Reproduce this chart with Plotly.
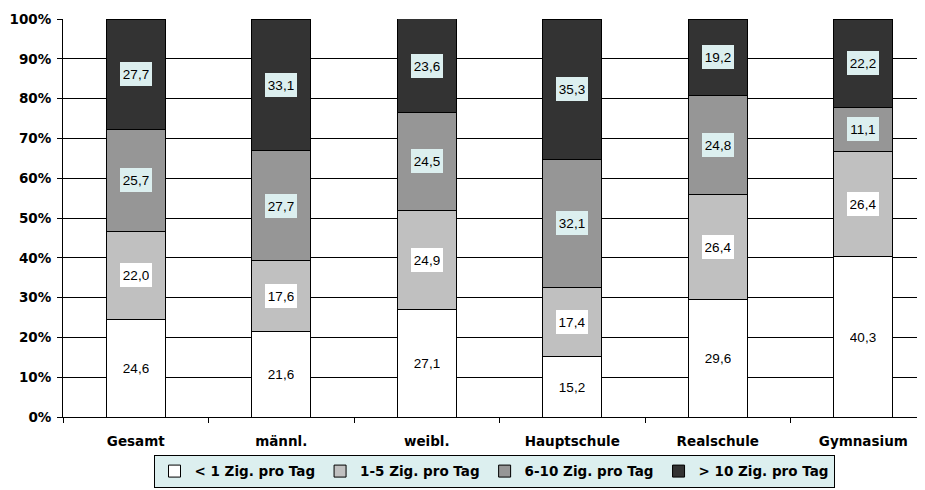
import plotly.graph_objects as go
import numpy as np

categories = ["Gesamt", "männl.", "weibl.", "Hauptschule", "Realschule", "Gymnasium"]
series_names = ["< 1 Zig. pro Tag", "1-5 Zig. pro Tag", "6-10 Zig. pro Tag", "> 10 Zig. pro Tag"]
lt1 = [24.6, 21.6, 27.1, 15.2, 29.6, 40.3]
z1_5 = [22.0, 17.6, 24.9, 17.4, 26.4, 26.4]
z6_10 = [25.7, 27.7, 24.5, 32.1, 24.8, 11.1]
gt10 = [27.7, 33.1, 23.6, 35.3, 19.2, 22.2]
y_ticks = [0, 10, 20, 30, 40, 50, 60, 70, 80, 90, 100]

series = [lt1, z1_5, z6_10, gt10]
colors = ["#FFFFFF", "#C0C0C0", "#969696", "#333333"]
label_bg = [None, "#FFFFFF", "#DCEFEF", "#DCEFEF"]
xpos = list(range(len(categories)))

BOLD = "DejaVu Sans"
REG = "Liberation Sans, Arial"

fig = go.Figure()
for name, vals, col in zip(series_names, series, colors):
    fig.add_trace(go.Bar(
        x=xpos, y=vals, name=name, width=0.405,
        marker=dict(color=col, line=dict(color="#000000", width=1)),
    ))

base = np.zeros(len(categories))
for vals, bg in zip(series, label_bg):
    for i, v in enumerate(vals):
        ann = dict(x=xpos[i], y=base[i] + v / 2, text=f"{v:.1f}".replace(".", ","),
                   showarrow=False, font=dict(family=REG, size=13.5, color="#000000"),
                   width=26, height=18, borderpad=3, borderwidth=0)
        if bg:
            ann["bgcolor"] = bg
        fig.add_annotation(**ann)
    base += np.array(vals)

fig.update_layout(
    barmode="stack",
    width=917, height=482,
    margin=dict(l=55, r=0, t=11, b=73, autoexpand=False),
    paper_bgcolor="#FFFFFF", plot_bgcolor="#FFFFFF",
    font=dict(family=REG, color="#000000"),
    showlegend=True,
    legend=dict(orientation="h", x=0.5, xanchor="center", y=-0.095, yanchor="top",
                bgcolor="#DCEFEF", bordercolor="#000000", borderwidth=1,
                traceorder="normal",
                font=dict(family=BOLD, size=13.5, color="#000000", weight="bold"),
                itemwidth=30),
    xaxis=dict(range=[-0.5, 5.424], tickvals=xpos, ticktext=categories, ticks="",
               showgrid=False, showline=True, linecolor="#000000", linewidth=1,
               tickfont=dict(family=BOLD, size=13.5, weight="bold"), zeroline=False,
               automargin=False, ticklabelstandoff=12,
               minor=dict(tick0=0.5, dtick=1, ticks="outside", ticklen=5, tickcolor="#000000", showgrid=False)),
    yaxis=dict(range=[0, 100], tickvals=y_ticks, ticktext=[f"{t}%" for t in y_ticks],
               showgrid=True, gridcolor="#000000", gridwidth=1,
               showline=True, linecolor="#000000", linewidth=1,
               ticks="outside", ticklen=5, tickcolor="#000000",
               tickfont=dict(family=BOLD, size=13.5, weight="bold"), zeroline=False,
               automargin=False, ticklabelstandoff=3),
)

fig.write_html("out.html")
